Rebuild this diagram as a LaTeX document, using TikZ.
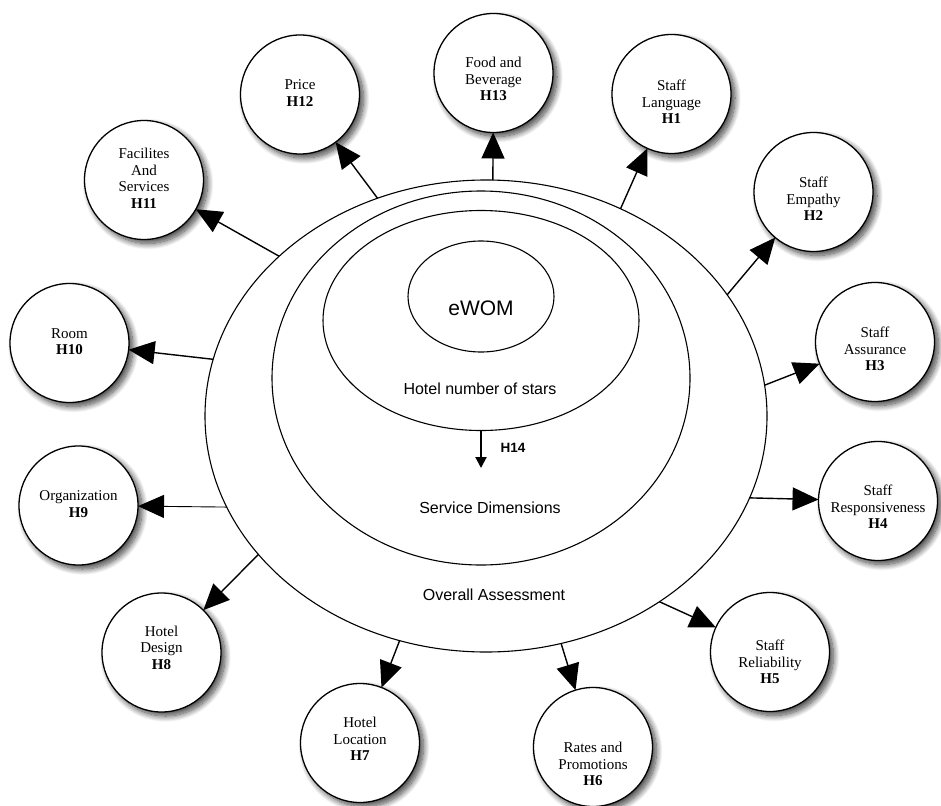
\documentclass[tikz,border=0pt]{standalone}
\usepackage{fontspec}
\setmainfont{Liberation Serif}
\setsansfont{Liberation Sans}
\usetikzlibrary{arrows.meta,shapes.geometric,shadows.blur,calc}

% text block lowered inside its circle without changing the box size
\newcommand{\dropby}[2]{\raisebox{-#1}[\height][\depth]{\begin{tabular}{@{}c@{}}#2\end{tabular}}}

\tikzset{
  ring/.style={ellipse, draw, line width=1.1pt, inner sep=0pt, outer sep=0pt},
  factor/.style={circle, draw, line width=1.3pt, fill=white, minimum size=119pt,
    inner sep=0pt, outer sep=0pt, font=\fontsize{15}{16.5}\selectfont,
    blur shadow={shadow xshift=4pt, shadow yshift=-4pt, shadow blur radius=6pt,
      shadow blur steps=14, shadow opacity=75}},
  link/.style={line width=1.4pt, -{Triangle[length=26pt,width=23pt]}},
  ringlabel/.style={font=\sffamily\fontsize{16}{19}\selectfont, anchor=base, inner sep=0pt},
}

\begin{document}
\begin{tikzpicture}[x=1pt, y=-1pt]
\useasboundingbox (0,0) rectangle (941,805);

% nested constructs
\node[ring, minimum width=562pt, minimum height=472pt] (outer) at (486,416) {};
\node[ring, minimum width=418pt, minimum height=374pt] (service) at (481,378) {};
\node[ring, minimum width=316pt, minimum height=220pt] (stars) at (481,320.5) {};
\node[ring, minimum width=146pt, minimum height=111pt,
      font=\sffamily\fontsize{21}{24}\selectfont] (ewom) at (481,296.5)
      {\raisebox{-12pt}[\height][\depth]{eWOM}};

\node[ringlabel] (starslbl) at (480,394.5) {Hotel number of stars};
\node[ringlabel] (servicelbl) at (490,513) {Service Dimensions};
\node[ringlabel] (overalllbl) at (494,600) {Overall Assessment};

% H14: stars -> service dimensions
\coordinate (h14end) at (481,468);
\draw[line width=2pt, -{Triangle[length=11pt,width=11pt]}] (stars.south) -- (h14end);
\node[font=\sffamily\bfseries\fontsize{13.5}{16}\selectfont, anchor=base, inner sep=0pt]
  (h14lbl) at (513,452) {H14};

% surrounding factors
\node[factor] (h13) at (493.5,73)   {\dropby{8pt}{Food and\\Beverage\\\textbf{H13}}};
\node[factor] (h12) at (300,94.5)   {\dropby{0pt}{Price\\\textbf{H12}}};
\node[factor] (h11) at (144,180)    {\dropby{0pt}{Facilites\\And\\Services\\\textbf{H11}}};
\node[factor] (h10) at (69.5,343)   {\dropby{0pt}{Room\\\textbf{H10}}};
\node[factor] (h9)  at (78.5,505.5) {\dropby{0pt}{Organization\\\textbf{H9}}};
\node[factor] (h8)  at (161.5,652.5){\dropby{-3pt}{Hotel\\Design\\\textbf{H8}}};
\node[factor] (h7)  at (360,743)    {\dropby{-2pt}{Hotel\\Location\\\textbf{H7}}};
\node[factor] (h6)  at (593,747)    {\dropby{19pt}{Rates and\\Promotions\\\textbf{H6}}};
\node[factor] (h5)  at (770,652)    {\dropby{12pt}{Staff\\Reliability\\\textbf{H5}}};
\node[factor] (h4)  at (878,501)    {\dropby{8pt}{Staff\\Responsiveness\\\textbf{H4}}};
\node[factor] (h3)  at (875,342)    {\dropby{9pt}{Staff\\Assurance\\\textbf{H3}}};
\node[factor] (h2)  at (813.5,192)  {\dropby{9pt}{Staff\\Empathy\\\textbf{H2}}};
\node[factor] (h1)  at (671.5,94)   {\dropby{10pt}{Staff\\Language\\\textbf{H1}}};

% arrow start points on the outer ellipse
\foreach \n/\t in {13/88.6, 12/112.7, 11/137.4, 10/166.1, 9/202.7, 8/215.9, 7/252.1,
                   6/285.5, 5/308.1, 4/339.7, 3/7.5, 2/30.9, 1/61.4}
  \coordinate (s\n) at ($(outer.center)+(\t:281pt and 236pt)$);

\foreach \n in {13,12,11,10,8,7,6,5,4,3,2,1}
  \draw[link] (s\n) -- (h\n);
\draw[link, line width=0.9pt] (s9) -- (h9);
\end{tikzpicture}
\end{document}
